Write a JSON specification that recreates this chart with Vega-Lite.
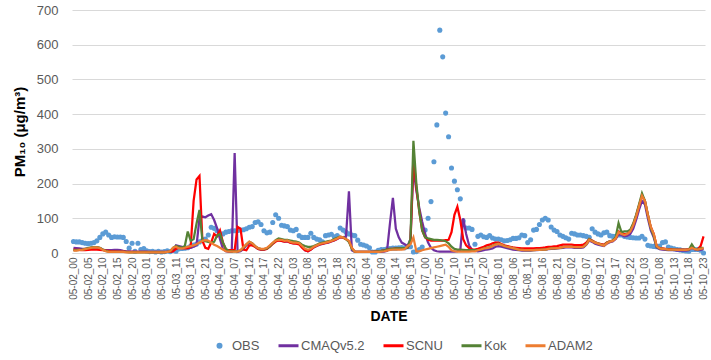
{
"$schema":"https://vega.github.io/schema/vega-lite/v6.json",
"width":633,"height":243,
"autosize":{"type":"none"},
"padding":{"left":72,"top":10,"right":6,"bottom":107},
"background":"white",
"config":{"view":{"stroke":null},"font":"Liberation Sans"},
"data":{"values":[
{"h":0,"OBS":33,"CMAQv5.2":15,"SCNU":10,"Kok":8,"ADAM2":7},
{"h":1,"OBS":32,"CMAQv5.2":14,"SCNU":9,"Kok":8,"ADAM2":7},
{"h":2,"OBS":32,"CMAQv5.2":13,"SCNU":9,"Kok":9,"ADAM2":8},
{"h":3,"OBS":30,"CMAQv5.2":12,"SCNU":8,"Kok":10,"ADAM2":9},
{"h":4,"OBS":28,"CMAQv5.2":12,"SCNU":8,"Kok":12,"ADAM2":11},
{"h":5,"OBS":27,"CMAQv5.2":13,"SCNU":9,"Kok":14,"ADAM2":13},
{"h":6,"OBS":28,"CMAQv5.2":15,"SCNU":10,"Kok":16,"ADAM2":15},
{"h":7,"OBS":30,"CMAQv5.2":16,"SCNU":10,"Kok":17,"ADAM2":16},
{"h":8,"OBS":35,"CMAQv5.2":16,"SCNU":10,"Kok":17,"ADAM2":16},
{"h":9,"OBS":45,"CMAQv5.2":14,"SCNU":9,"Kok":15,"ADAM2":14},
{"h":10,"OBS":55,"CMAQv5.2":10,"SCNU":8,"Kok":10,"ADAM2":9},
{"h":11,"OBS":60,"CMAQv5.2":8,"SCNU":7,"Kok":6,"ADAM2":5},
{"h":12,"OBS":52,"CMAQv5.2":8,"SCNU":6,"Kok":4,"ADAM2":3},
{"h":13,"OBS":45,"CMAQv5.2":8,"SCNU":5,"Kok":3,"ADAM2":3},
{"h":14,"OBS":47,"CMAQv5.2":9,"SCNU":5,"Kok":3,"ADAM2":3},
{"h":15,"OBS":46,"CMAQv5.2":9,"SCNU":4,"Kok":3,"ADAM2":3},
{"h":16,"OBS":46,"CMAQv5.2":8,"SCNU":4,"Kok":3,"ADAM2":3},
{"h":17,"OBS":45,"CMAQv5.2":6,"SCNU":4,"Kok":3,"ADAM2":3},
{"h":18,"OBS":33,"CMAQv5.2":5,"SCNU":3,"Kok":3,"ADAM2":2},
{"h":19,"OBS":14,"CMAQv5.2":4,"SCNU":3,"Kok":2,"ADAM2":2},
{"h":20,"OBS":28,"CMAQv5.2":4,"SCNU":3,"Kok":2,"ADAM2":2},
{"h":21,"OBS":5,"CMAQv5.2":3,"SCNU":3,"Kok":2,"ADAM2":2},
{"h":22,"OBS":28,"CMAQv5.2":3,"SCNU":3,"Kok":2,"ADAM2":2},
{"h":23,"OBS":10,"CMAQv5.2":3,"SCNU":3,"Kok":2,"ADAM2":2},
{"h":24,"OBS":13,"CMAQv5.2":3,"SCNU":3,"Kok":2,"ADAM2":2},
{"h":25,"OBS":6,"CMAQv5.2":3,"SCNU":3,"Kok":2,"ADAM2":2},
{"h":26,"OBS":4,"CMAQv5.2":2,"SCNU":3,"Kok":2,"ADAM2":2},
{"h":27,"OBS":5,"CMAQv5.2":2,"SCNU":3,"Kok":2,"ADAM2":2},
{"h":28,"OBS":3,"CMAQv5.2":2,"SCNU":3,"Kok":2,"ADAM2":2},
{"h":29,"OBS":5,"CMAQv5.2":2,"SCNU":3,"Kok":2,"ADAM2":2},
{"h":30,"OBS":3,"CMAQv5.2":2,"SCNU":3,"Kok":2,"ADAM2":2},
{"h":31,"OBS":4,"CMAQv5.2":2,"SCNU":3,"Kok":2,"ADAM2":2},
{"h":32,"OBS":6,"CMAQv5.2":3,"SCNU":3,"Kok":3,"ADAM2":3},
{"h":33,"OBS":4,"CMAQv5.2":3,"SCNU":3,"Kok":5,"ADAM2":5},
{"h":34,"OBS":8,"CMAQv5.2":5,"SCNU":5,"Kok":15,"ADAM2":15},
{"h":35,"OBS":5,"CMAQv5.2":22,"SCNU":12,"Kok":20,"ADAM2":18},
{"h":36,"OBS":12,"CMAQv5.2":20,"SCNU":15,"Kok":18,"ADAM2":13},
{"h":37,"OBS":13,"CMAQv5.2":18,"SCNU":14,"Kok":15,"ADAM2":13},
{"h":38,"OBS":14,"CMAQv5.2":15,"SCNU":13,"Kok":20,"ADAM2":15},
{"h":39,"OBS":15,"CMAQv5.2":14,"SCNU":14,"Kok":62,"ADAM2":18},
{"h":40,"OBS":20,"CMAQv5.2":15,"SCNU":18,"Kok":35,"ADAM2":20},
{"h":41,"OBS":23,"CMAQv5.2":18,"SCNU":150,"Kok":40,"ADAM2":22},
{"h":42,"OBS":26,"CMAQv5.2":22,"SCNU":212,"Kok":85,"ADAM2":25},
{"h":43,"OBS":32,"CMAQv5.2":100,"SCNU":222,"Kok":124,"ADAM2":30},
{"h":44,"OBS":36,"CMAQv5.2":105,"SCNU":35,"Kok":35,"ADAM2":35},
{"h":45,"OBS":40,"CMAQv5.2":103,"SCNU":15,"Kok":34,"ADAM2":37},
{"h":46,"OBS":52,"CMAQv5.2":108,"SCNU":12,"Kok":32,"ADAM2":36},
{"h":47,"OBS":74,"CMAQv5.2":112,"SCNU":30,"Kok":30,"ADAM2":30},
{"h":48,"OBS":71,"CMAQv5.2":95,"SCNU":55,"Kok":32,"ADAM2":24},
{"h":49,"OBS":64,"CMAQv5.2":72,"SCNU":48,"Kok":50,"ADAM2":20},
{"h":50,"OBS":55,"CMAQv5.2":40,"SCNU":65,"Kok":55,"ADAM2":15},
{"h":51,"OBS":55,"CMAQv5.2":12,"SCNU":30,"Kok":30,"ADAM2":10},
{"h":52,"OBS":60,"CMAQv5.2":5,"SCNU":10,"Kok":12,"ADAM2":5},
{"h":53,"OBS":62,"CMAQv5.2":3,"SCNU":8,"Kok":6,"ADAM2":4},
{"h":54,"OBS":64,"CMAQv5.2":3,"SCNU":8,"Kok":5,"ADAM2":4},
{"h":55,"OBS":64,"CMAQv5.2":288,"SCNU":8,"Kok":5,"ADAM2":4},
{"h":56,"OBS":65,"CMAQv5.2":3,"SCNU":75,"Kok":5,"ADAM2":4},
{"h":57,"OBS":66,"CMAQv5.2":5,"SCNU":70,"Kok":8,"ADAM2":8},
{"h":58,"OBS":67,"CMAQv5.2":12,"SCNU":10,"Kok":15,"ADAM2":17},
{"h":59,"OBS":70,"CMAQv5.2":22,"SCNU":8,"Kok":25,"ADAM2":25},
{"h":60,"OBS":74,"CMAQv5.2":30,"SCNU":22,"Kok":32,"ADAM2":33},
{"h":61,"OBS":76,"CMAQv5.2":25,"SCNU":22,"Kok":28,"ADAM2":28},
{"h":62,"OBS":88,"CMAQv5.2":18,"SCNU":18,"Kok":20,"ADAM2":20},
{"h":63,"OBS":90,"CMAQv5.2":12,"SCNU":12,"Kok":14,"ADAM2":14},
{"h":64,"OBS":82,"CMAQv5.2":10,"SCNU":10,"Kok":11,"ADAM2":12},
{"h":65,"OBS":64,"CMAQv5.2":10,"SCNU":10,"Kok":11,"ADAM2":12},
{"h":66,"OBS":58,"CMAQv5.2":13,"SCNU":12,"Kok":13,"ADAM2":15},
{"h":67,"OBS":60,"CMAQv5.2":20,"SCNU":18,"Kok":19,"ADAM2":22},
{"h":68,"OBS":88,"CMAQv5.2":28,"SCNU":26,"Kok":28,"ADAM2":30},
{"h":69,"OBS":110,"CMAQv5.2":34,"SCNU":33,"Kok":37,"ADAM2":36},
{"h":70,"OBS":100,"CMAQv5.2":37,"SCNU":36,"Kok":42,"ADAM2":38},
{"h":71,"OBS":80,"CMAQv5.2":35,"SCNU":35,"Kok":40,"ADAM2":38},
{"h":72,"OBS":78,"CMAQv5.2":33,"SCNU":33,"Kok":38,"ADAM2":35},
{"h":73,"OBS":76,"CMAQv5.2":33,"SCNU":34,"Kok":38,"ADAM2":36},
{"h":74,"OBS":66,"CMAQv5.2":30,"SCNU":30,"Kok":36,"ADAM2":32},
{"h":75,"OBS":64,"CMAQv5.2":28,"SCNU":28,"Kok":34,"ADAM2":30},
{"h":76,"OBS":68,"CMAQv5.2":28,"SCNU":27,"Kok":33,"ADAM2":30},
{"h":77,"OBS":50,"CMAQv5.2":26,"SCNU":25,"Kok":30,"ADAM2":28},
{"h":78,"OBS":45,"CMAQv5.2":18,"SCNU":15,"Kok":24,"ADAM2":20},
{"h":79,"OBS":45,"CMAQv5.2":8,"SCNU":8,"Kok":20,"ADAM2":12},
{"h":80,"OBS":45,"CMAQv5.2":5,"SCNU":5,"Kok":18,"ADAM2":9},
{"h":81,"OBS":57,"CMAQv5.2":10,"SCNU":10,"Kok":18,"ADAM2":12},
{"h":82,"OBS":45,"CMAQv5.2":16,"SCNU":17,"Kok":20,"ADAM2":18},
{"h":83,"OBS":40,"CMAQv5.2":20,"SCNU":21,"Kok":24,"ADAM2":22},
{"h":84,"OBS":38,"CMAQv5.2":24,"SCNU":25,"Kok":28,"ADAM2":26},
{"h":85,"OBS":32,"CMAQv5.2":26,"SCNU":27,"Kok":30,"ADAM2":28},
{"h":86,"OBS":50,"CMAQv5.2":28,"SCNU":29,"Kok":32,"ADAM2":30},
{"h":87,"OBS":52,"CMAQv5.2":30,"SCNU":31,"Kok":34,"ADAM2":32},
{"h":88,"OBS":54,"CMAQv5.2":33,"SCNU":34,"Kok":36,"ADAM2":35},
{"h":89,"OBS":47,"CMAQv5.2":36,"SCNU":37,"Kok":40,"ADAM2":38},
{"h":90,"OBS":50,"CMAQv5.2":40,"SCNU":41,"Kok":44,"ADAM2":42},
{"h":91,"OBS":72,"CMAQv5.2":45,"SCNU":46,"Kok":47,"ADAM2":47},
{"h":92,"OBS":66,"CMAQv5.2":46,"SCNU":44,"Kok":45,"ADAM2":45},
{"h":93,"OBS":60,"CMAQv5.2":47,"SCNU":40,"Kok":40,"ADAM2":40},
{"h":94,"OBS":55,"CMAQv5.2":178,"SCNU":34,"Kok":32,"ADAM2":35},
{"h":95,"OBS":52,"CMAQv5.2":8,"SCNU":14,"Kok":12,"ADAM2":15},
{"h":96,"OBS":50,"CMAQv5.2":3,"SCNU":4,"Kok":4,"ADAM2":4},
{"h":97,"OBS":37,"CMAQv5.2":3,"SCNU":3,"Kok":3,"ADAM2":3},
{"h":98,"OBS":25,"CMAQv5.2":3,"SCNU":3,"Kok":3,"ADAM2":3},
{"h":99,"OBS":23,"CMAQv5.2":3,"SCNU":3,"Kok":3,"ADAM2":3},
{"h":100,"OBS":20,"CMAQv5.2":3,"SCNU":3,"Kok":3,"ADAM2":3},
{"h":101,"OBS":15,"CMAQv5.2":3,"SCNU":3,"Kok":3,"ADAM2":3},
{"h":102,"OBS":3,"CMAQv5.2":3,"SCNU":3,"Kok":3,"ADAM2":3},
{"h":103,"OBS":3,"CMAQv5.2":3,"SCNU":4,"Kok":4,"ADAM2":3},
{"h":104,"OBS":8,"CMAQv5.2":3,"SCNU":5,"Kok":5,"ADAM2":3},
{"h":105,"OBS":10,"CMAQv5.2":3,"SCNU":6,"Kok":6,"ADAM2":4},
{"h":106,"OBS":10,"CMAQv5.2":4,"SCNU":8,"Kok":8,"ADAM2":5},
{"h":107,"OBS":12,"CMAQv5.2":6,"SCNU":10,"Kok":10,"ADAM2":7},
{"h":108,"OBS":13,"CMAQv5.2":85,"SCNU":12,"Kok":12,"ADAM2":9},
{"h":109,"OBS":14,"CMAQv5.2":159,"SCNU":12,"Kok":12,"ADAM2":10},
{"h":110,"OBS":14,"CMAQv5.2":70,"SCNU":13,"Kok":13,"ADAM2":10},
{"h":111,"OBS":15,"CMAQv5.2":45,"SCNU":13,"Kok":13,"ADAM2":10},
{"h":112,"OBS":16,"CMAQv5.2":30,"SCNU":14,"Kok":14,"ADAM2":10},
{"h":113,"OBS":15,"CMAQv5.2":25,"SCNU":14,"Kok":14,"ADAM2":11},
{"h":114,"OBS":18,"CMAQv5.2":20,"SCNU":15,"Kok":16,"ADAM2":20},
{"h":115,"OBS":18,"CMAQv5.2":40,"SCNU":30,"Kok":40,"ADAM2":25},
{"h":116,"OBS":3,"CMAQv5.2":245,"SCNU":277,"Kok":323,"ADAM2":45},
{"h":117,"OBS":4,"CMAQv5.2":180,"SCNU":190,"Kok":200,"ADAM2":5},
{"h":118,"OBS":10,"CMAQv5.2":130,"SCNU":120,"Kok":120,"ADAM2":5},
{"h":119,"OBS":17,"CMAQv5.2":90,"SCNU":65,"Kok":65,"ADAM2":8},
{"h":120,"OBS":66,"CMAQv5.2":55,"SCNU":45,"Kok":45,"ADAM2":10},
{"h":121,"OBS":100,"CMAQv5.2":30,"SCNU":38,"Kok":42,"ADAM2":12},
{"h":122,"OBS":148,"CMAQv5.2":15,"SCNU":36,"Kok":40,"ADAM2":14},
{"h":123,"OBS":263,"CMAQv5.2":8,"SCNU":36,"Kok":38,"ADAM2":16},
{"h":124,"OBS":369,"CMAQv5.2":5,"SCNU":36,"Kok":38,"ADAM2":18},
{"h":125,"OBS":642,"CMAQv5.2":4,"SCNU":36,"Kok":37,"ADAM2":20},
{"h":126,"OBS":565,"CMAQv5.2":4,"SCNU":36,"Kok":36,"ADAM2":22},
{"h":127,"OBS":403,"CMAQv5.2":4,"SCNU":37,"Kok":34,"ADAM2":24},
{"h":128,"OBS":335,"CMAQv5.2":4,"SCNU":38,"Kok":28,"ADAM2":18},
{"h":129,"OBS":245,"CMAQv5.2":4,"SCNU":60,"Kok":18,"ADAM2":8},
{"h":130,"OBS":207,"CMAQv5.2":4,"SCNU":110,"Kok":12,"ADAM2":5},
{"h":131,"OBS":182,"CMAQv5.2":5,"SCNU":133,"Kok":10,"ADAM2":4},
{"h":132,"OBS":156,"CMAQv5.2":8,"SCNU":95,"Kok":10,"ADAM2":4},
{"h":133,"OBS":92,"CMAQv5.2":100,"SCNU":40,"Kok":9,"ADAM2":4},
{"h":134,"OBS":72,"CMAQv5.2":55,"SCNU":22,"Kok":8,"ADAM2":4},
{"h":135,"OBS":72,"CMAQv5.2":22,"SCNU":14,"Kok":8,"ADAM2":4},
{"h":136,"OBS":68,"CMAQv5.2":10,"SCNU":10,"Kok":8,"ADAM2":5},
{"h":137,"OBS":25,"CMAQv5.2":6,"SCNU":10,"Kok":8,"ADAM2":5},
{"h":138,"OBS":48,"CMAQv5.2":5,"SCNU":12,"Kok":8,"ADAM2":8},
{"h":139,"OBS":52,"CMAQv5.2":6,"SCNU":15,"Kok":10,"ADAM2":10},
{"h":140,"OBS":47,"CMAQv5.2":8,"SCNU":18,"Kok":13,"ADAM2":13},
{"h":141,"OBS":45,"CMAQv5.2":10,"SCNU":22,"Kok":15,"ADAM2":14},
{"h":142,"OBS":50,"CMAQv5.2":11,"SCNU":24,"Kok":17,"ADAM2":16},
{"h":143,"OBS":43,"CMAQv5.2":13,"SCNU":28,"Kok":21,"ADAM2":20},
{"h":144,"OBS":40,"CMAQv5.2":18,"SCNU":30,"Kok":25,"ADAM2":24},
{"h":145,"OBS":40,"CMAQv5.2":20,"SCNU":30,"Kok":27,"ADAM2":26},
{"h":146,"OBS":38,"CMAQv5.2":18,"SCNU":26,"Kok":24,"ADAM2":24},
{"h":147,"OBS":35,"CMAQv5.2":16,"SCNU":22,"Kok":20,"ADAM2":20},
{"h":148,"OBS":36,"CMAQv5.2":14,"SCNU":20,"Kok":18,"ADAM2":18},
{"h":149,"OBS":38,"CMAQv5.2":12,"SCNU":18,"Kok":16,"ADAM2":16},
{"h":150,"OBS":42,"CMAQv5.2":10,"SCNU":16,"Kok":14,"ADAM2":14},
{"h":151,"OBS":42,"CMAQv5.2":9,"SCNU":15,"Kok":12,"ADAM2":12},
{"h":152,"OBS":44,"CMAQv5.2":8,"SCNU":14,"Kok":10,"ADAM2":10},
{"h":153,"OBS":52,"CMAQv5.2":7,"SCNU":13,"Kok":9,"ADAM2":9},
{"h":154,"OBS":50,"CMAQv5.2":7,"SCNU":13,"Kok":8,"ADAM2":8},
{"h":155,"OBS":30,"CMAQv5.2":7,"SCNU":13,"Kok":8,"ADAM2":8},
{"h":156,"OBS":38,"CMAQv5.2":7,"SCNU":13,"Kok":8,"ADAM2":8},
{"h":157,"OBS":66,"CMAQv5.2":8,"SCNU":13,"Kok":8,"ADAM2":8},
{"h":158,"OBS":68,"CMAQv5.2":8,"SCNU":14,"Kok":9,"ADAM2":9},
{"h":159,"OBS":82,"CMAQv5.2":9,"SCNU":14,"Kok":9,"ADAM2":9},
{"h":160,"OBS":95,"CMAQv5.2":9,"SCNU":15,"Kok":10,"ADAM2":10},
{"h":161,"OBS":100,"CMAQv5.2":10,"SCNU":16,"Kok":10,"ADAM2":10},
{"h":162,"OBS":95,"CMAQv5.2":11,"SCNU":18,"Kok":12,"ADAM2":12},
{"h":163,"OBS":75,"CMAQv5.2":12,"SCNU":18,"Kok":13,"ADAM2":13},
{"h":164,"OBS":66,"CMAQv5.2":12,"SCNU":19,"Kok":13,"ADAM2":13},
{"h":165,"OBS":62,"CMAQv5.2":13,"SCNU":20,"Kok":14,"ADAM2":14},
{"h":166,"OBS":52,"CMAQv5.2":14,"SCNU":22,"Kok":15,"ADAM2":15},
{"h":167,"OBS":48,"CMAQv5.2":15,"SCNU":24,"Kok":17,"ADAM2":17},
{"h":168,"OBS":44,"CMAQv5.2":16,"SCNU":24,"Kok":18,"ADAM2":18},
{"h":169,"OBS":40,"CMAQv5.2":16,"SCNU":24,"Kok":18,"ADAM2":18},
{"h":170,"OBS":57,"CMAQv5.2":16,"SCNU":24,"Kok":18,"ADAM2":18},
{"h":171,"OBS":55,"CMAQv5.2":15,"SCNU":23,"Kok":17,"ADAM2":17},
{"h":172,"OBS":52,"CMAQv5.2":15,"SCNU":23,"Kok":17,"ADAM2":17},
{"h":173,"OBS":52,"CMAQv5.2":15,"SCNU":23,"Kok":17,"ADAM2":17},
{"h":174,"OBS":50,"CMAQv5.2":16,"SCNU":24,"Kok":18,"ADAM2":18},
{"h":175,"OBS":48,"CMAQv5.2":24,"SCNU":30,"Kok":25,"ADAM2":25},
{"h":176,"OBS":45,"CMAQv5.2":36,"SCNU":40,"Kok":40,"ADAM2":38},
{"h":177,"OBS":70,"CMAQv5.2":32,"SCNU":36,"Kok":35,"ADAM2":34},
{"h":178,"OBS":60,"CMAQv5.2":27,"SCNU":31,"Kok":30,"ADAM2":30},
{"h":179,"OBS":55,"CMAQv5.2":24,"SCNU":28,"Kok":28,"ADAM2":27},
{"h":180,"OBS":52,"CMAQv5.2":22,"SCNU":26,"Kok":24,"ADAM2":24},
{"h":181,"OBS":58,"CMAQv5.2":20,"SCNU":24,"Kok":22,"ADAM2":21},
{"h":182,"OBS":60,"CMAQv5.2":27,"SCNU":30,"Kok":30,"ADAM2":28},
{"h":183,"OBS":50,"CMAQv5.2":31,"SCNU":34,"Kok":34,"ADAM2":33},
{"h":184,"OBS":48,"CMAQv5.2":33,"SCNU":36,"Kok":36,"ADAM2":35},
{"h":185,"OBS":48,"CMAQv5.2":40,"SCNU":42,"Kok":45,"ADAM2":42},
{"h":186,"OBS":52,"CMAQv5.2":55,"SCNU":62,"Kok":86,"ADAM2":60},
{"h":187,"OBS":52,"CMAQv5.2":52,"SCNU":58,"Kok":60,"ADAM2":55},
{"h":188,"OBS":48,"CMAQv5.2":48,"SCNU":54,"Kok":62,"ADAM2":52},
{"h":189,"OBS":46,"CMAQv5.2":50,"SCNU":56,"Kok":62,"ADAM2":55},
{"h":190,"OBS":45,"CMAQv5.2":55,"SCNU":64,"Kok":67,"ADAM2":62},
{"h":191,"OBS":44,"CMAQv5.2":70,"SCNU":82,"Kok":85,"ADAM2":80},
{"h":192,"OBS":43,"CMAQv5.2":95,"SCNU":107,"Kok":110,"ADAM2":105},
{"h":193,"OBS":43,"CMAQv5.2":125,"SCNU":137,"Kok":140,"ADAM2":135},
{"h":194,"OBS":48,"CMAQv5.2":150,"SCNU":165,"Kok":172,"ADAM2":165},
{"h":195,"OBS":40,"CMAQv5.2":140,"SCNU":150,"Kok":150,"ADAM2":150},
{"h":196,"OBS":22,"CMAQv5.2":100,"SCNU":110,"Kok":110,"ADAM2":110},
{"h":197,"OBS":20,"CMAQv5.2":65,"SCNU":75,"Kok":72,"ADAM2":75},
{"h":198,"OBS":19,"CMAQv5.2":45,"SCNU":55,"Kok":50,"ADAM2":55},
{"h":199,"OBS":18,"CMAQv5.2":16,"SCNU":20,"Kok":18,"ADAM2":20},
{"h":200,"OBS":20,"CMAQv5.2":11,"SCNU":14,"Kok":13,"ADAM2":13},
{"h":201,"OBS":30,"CMAQv5.2":10,"SCNU":13,"Kok":12,"ADAM2":12},
{"h":202,"OBS":32,"CMAQv5.2":9,"SCNU":12,"Kok":11,"ADAM2":11},
{"h":203,"OBS":17,"CMAQv5.2":8,"SCNU":11,"Kok":10,"ADAM2":10},
{"h":204,"OBS":14,"CMAQv5.2":8,"SCNU":11,"Kok":10,"ADAM2":10},
{"h":205,"OBS":12,"CMAQv5.2":8,"SCNU":10,"Kok":10,"ADAM2":10},
{"h":206,"OBS":10,"CMAQv5.2":7,"SCNU":10,"Kok":9,"ADAM2":9},
{"h":207,"OBS":9,"CMAQv5.2":7,"SCNU":10,"Kok":9,"ADAM2":9},
{"h":208,"OBS":7,"CMAQv5.2":7,"SCNU":10,"Kok":9,"ADAM2":9},
{"h":209,"OBS":6,"CMAQv5.2":7,"SCNU":10,"Kok":9,"ADAM2":9},
{"h":210,"OBS":5,"CMAQv5.2":8,"SCNU":11,"Kok":10,"ADAM2":10},
{"h":211,"OBS":10,"CMAQv5.2":16,"SCNU":16,"Kok":25,"ADAM2":15},
{"h":212,"OBS":10,"CMAQv5.2":10,"SCNU":12,"Kok":12,"ADAM2":11},
{"h":213,"OBS":10,"CMAQv5.2":8,"SCNU":11,"Kok":10,"ADAM2":10},
{"h":214,"OBS":8,"CMAQv5.2":9,"SCNU":20,"Kok":14,"ADAM2":12},
{"h":215,"OBS":0,"CMAQv5.2":12,"SCNU":48,"Kok":15,"ADAM2":14}
]},
"transform":[{"fold":["OBS","CMAQv5\\.2","SCNU","Kok","ADAM2"],"as":["series","pm"]}],
"encoding":{
"x":{"field":"h","type":"quantitative","scale":{"domain":[-0.5,215.5],"nice":false,"zero":false},
"axis":{"values":[0,5,10,15,20,25,30,35,40,45,50,55,60,65,70,75,80,85,90,95,100,105,110,115,120,125,130,135,140,145,150,155,160,165,170,175,180,185,190,195,200,205,210,215],
"labelExpr":"'05-' + (floor(datum.value/24) < 8 ? '0' : '') + (floor(datum.value/24)+2) + '_' + (datum.value % 24 < 10 ? '0' : '') + (datum.value % 24)",
"labelAngle":-90,"labelFontSize":10,"labelColor":"#595959","labelPadding":4,"labelOverlap":false,"labelFlush":false,"labelBound":false,
"ticks":false,"grid":false,"domainColor":"#d9d9d9","domainWidth":1,
"title":"DATE","titleFontSize":14,"titleFontWeight":"bold","titleColor":"#000000","titlePadding":10}},
"y":{"field":"pm","type":"quantitative","scale":{"domain":[0,700],"nice":false},
"axis":{"values":[0,100,200,300,400,500,600,700],"grid":true,"gridColor":"#d9d9d9","gridWidth":1,"domain":false,"ticks":false,
"labelFontSize":13,"labelColor":"#595959","labelPadding":14,
"title":"PM₁₀ (μg/m³)","titleFontSize":15,"titleFontWeight":"bold","titleColor":"#000000","titlePadding":9}},
"color":{"field":"series","type":"nominal",
"scale":{"domain":["OBS","CMAQv5.2","SCNU","Kok","ADAM2"],"range":["#5B9BD5","#7030A0","#FF0000","#548235","#ED7D31"]},
"legend":{"orient":"none","legendX":141,"legendY":329,"direction":"horizontal","title":null,
"labelFontSize":13,"labelColor":"#595959","labelOffset":6,"columnPadding":12,
"symbolType":"stroke","symbolSize":400,"symbolStrokeWidth":3,
"encode":{"symbols":{"update":{
"shape":{"signal":"datum.value === 'OBS' ? 'circle' : 'stroke'"},
"size":{"signal":"datum.value === 'OBS' ? 36 : 400"},
"fill":{"signal":"datum.value === 'OBS' ? '#5B9BD5' : 'transparent'"},
"strokeWidth":{"signal":"datum.value === 'OBS' ? 0 : 3"}}}}}}
},
"layer":[
{"transform":[{"filter":"datum.series === 'OBS'"}],"mark":{"type":"circle","size":26,"opacity":1}},
{"transform":[{"filter":"datum.series !== 'OBS'"}],"mark":{"type":"line","strokeWidth":2.25}}
]
}
